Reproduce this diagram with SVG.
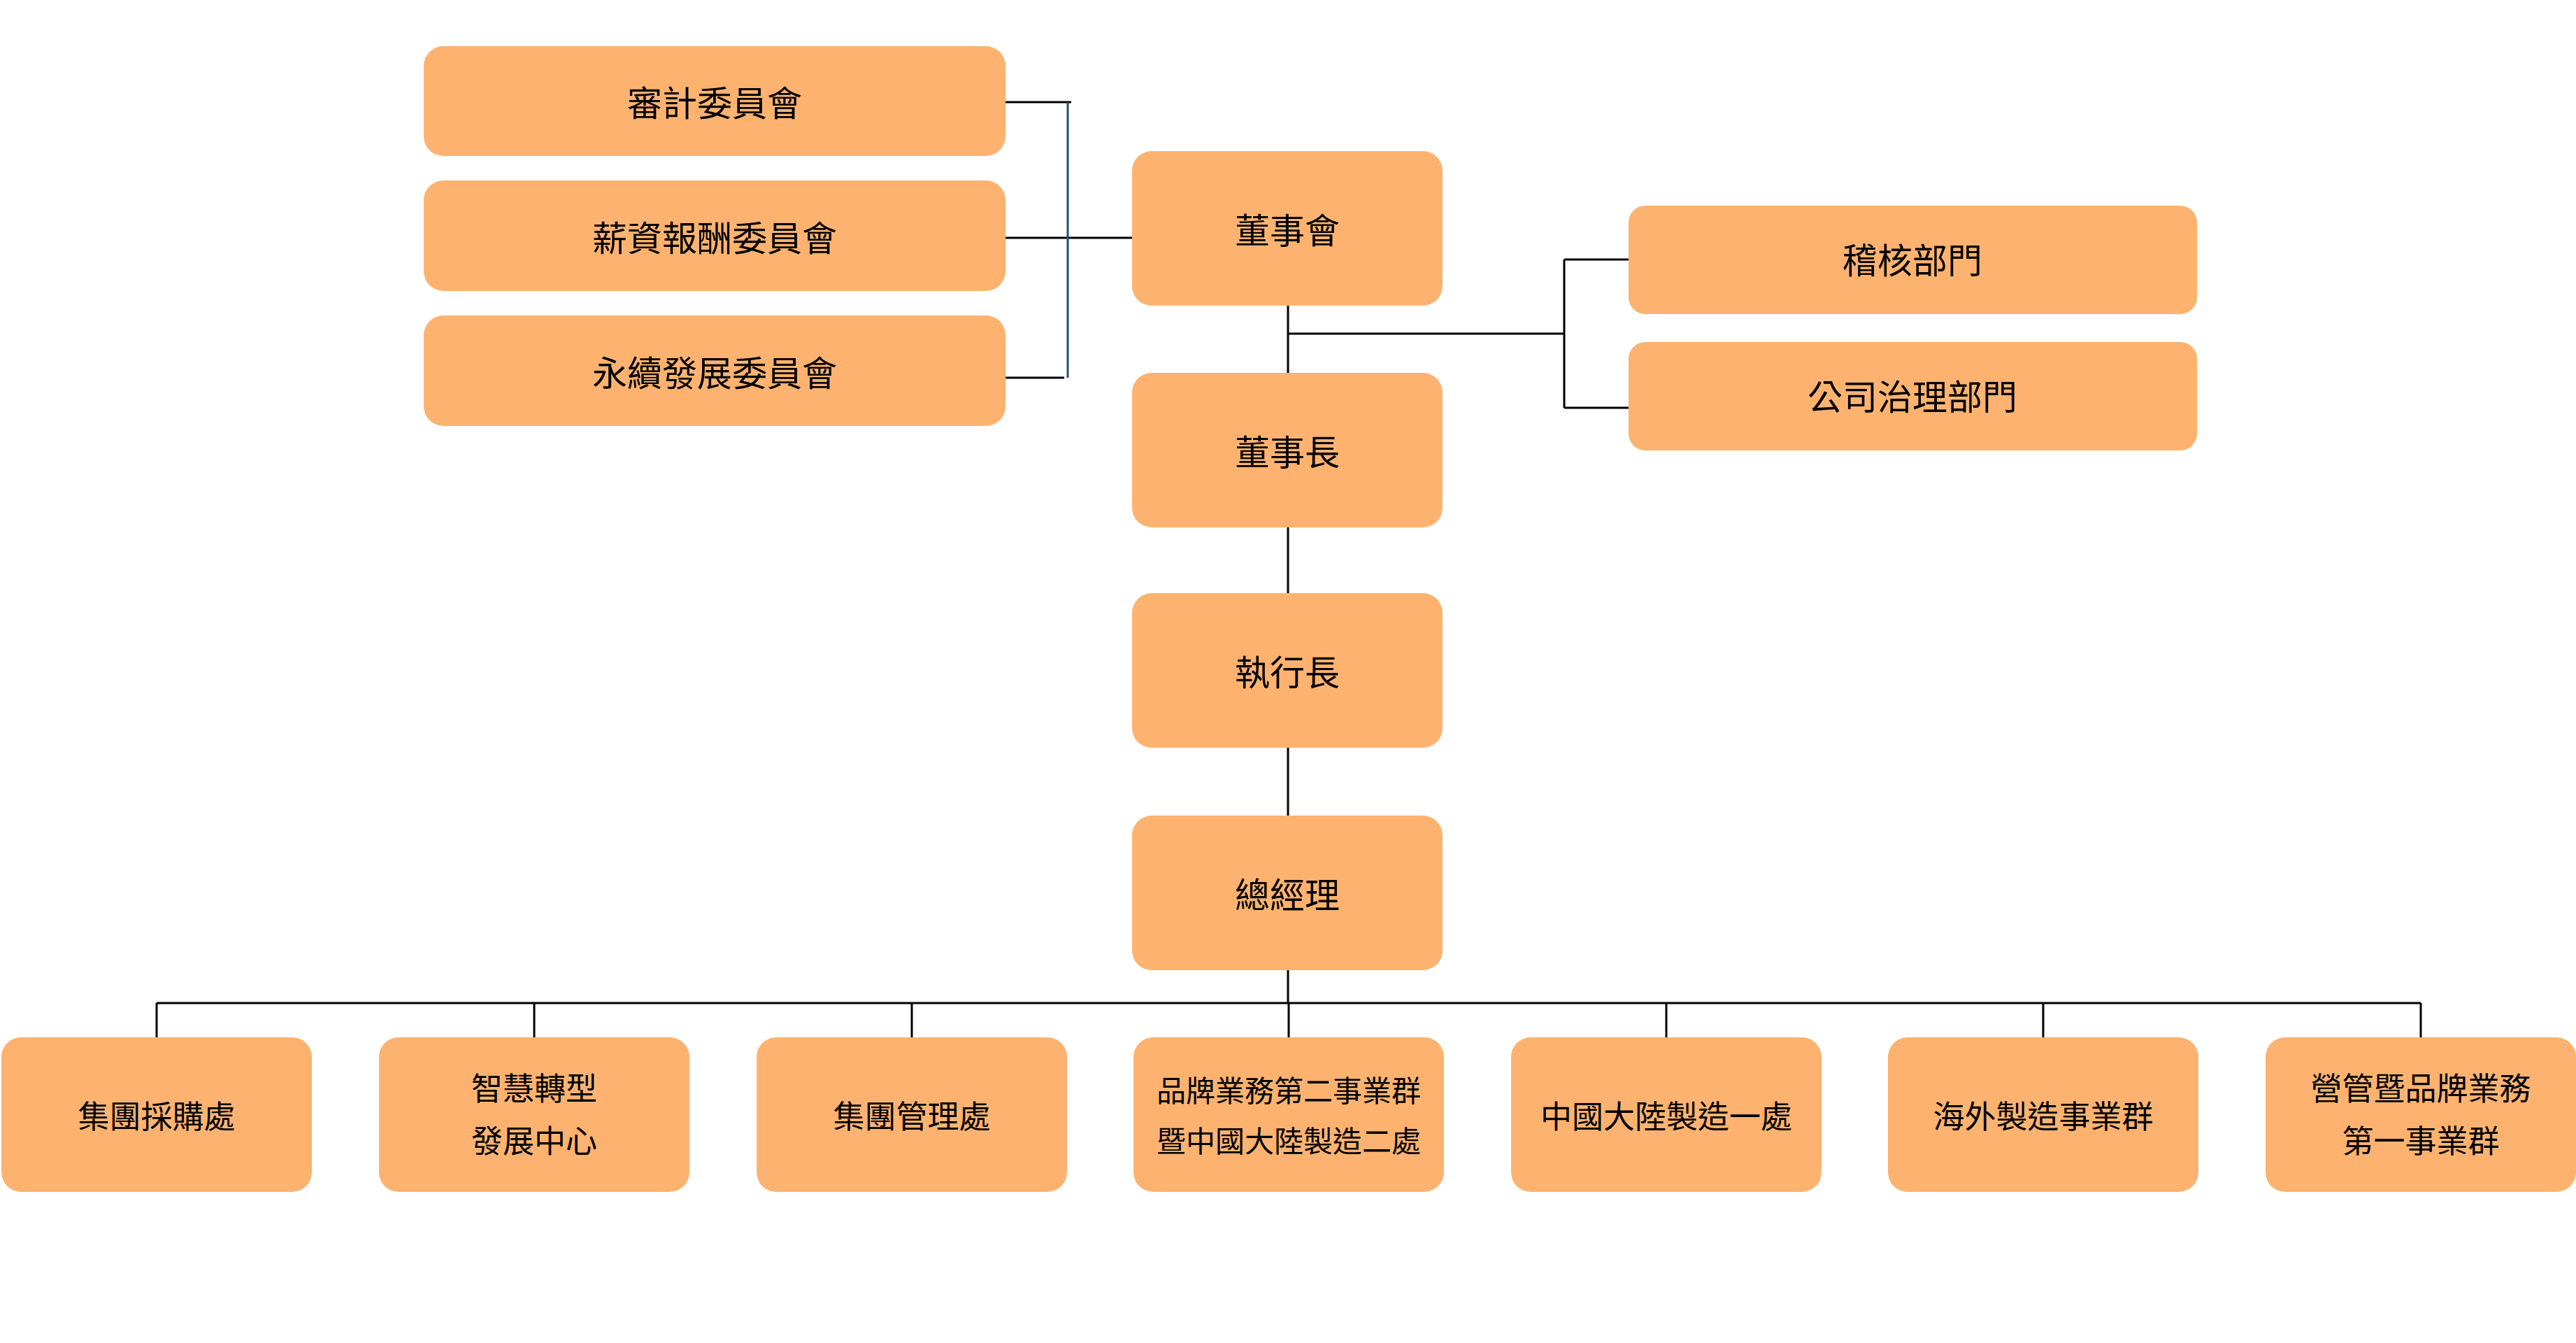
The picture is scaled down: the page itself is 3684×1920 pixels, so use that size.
<svg xmlns="http://www.w3.org/2000/svg" width="3684" height="1920" viewBox="0 0 3684 1920">
<style>
.b{fill:#FDB36F}
text{font-family:"Noto Sans CJK TC","Noto Sans CJK SC",sans-serif;font-size:50px;fill:#000;text-anchor:middle;dominant-baseline:central}
.s{font-size:45px}
.l{stroke:#000;stroke-width:3;fill:none}
</style>
<rect width="3684" height="1920" fill="#fff"/>
<g id="connectors">
<path class="l" d="M1438 146H1532M1438 340H1625M1438 540H1522"/>
<path d="M1527 146V540" stroke="#1F4E79" stroke-width="3" fill="none"/>
<path class="l" d="M1842 437V533M1842 477H2237M2237 371V583M2237 371H2329M2237 583H2329"/>
<path class="l" d="M1842 754V848M1842 1069V1166M1842 1387V1434M224 1434H3462"/>
<path class="l" d="M224 1434V1483M764 1434V1483M1304 1434V1483M1843 1434V1483M2383 1434V1483M2922 1434V1483M3462 1434V1483"/>
</g>
<g id="n1"><rect class="b" x="606" y="66" width="832" height="157" rx="28"/><text x="1022" y="144">審計委員會</text></g>
<g id="n2"><rect class="b" x="606" y="258" width="832" height="158" rx="28"/><text x="1022" y="337">薪資報酬委員會</text></g>
<g id="n3"><rect class="b" x="606" y="451" width="832" height="158" rx="28"/><text x="1022" y="530">永續發展委員會</text></g>
<g id="board"><rect class="b" x="1619" y="216" width="444" height="221" rx="28"/><text x="1841" y="326">董事會</text></g>
<g id="chair"><rect class="b" x="1619" y="533" width="444" height="221" rx="28"/><text x="1841" y="643">董事長</text></g>
<g id="ceo"><rect class="b" x="1619" y="848" width="444" height="221" rx="28"/><text x="1841" y="958">執行長</text></g>
<g id="gm"><rect class="b" x="1619" y="1166" width="444" height="221" rx="28"/><text x="1841" y="1276">總經理</text></g>
<g id="audit"><rect class="b" x="2329" y="294" width="813" height="155" rx="24"/><text x="2735" y="369">稽核部門</text></g>
<g id="gov"><rect class="b" x="2329" y="489" width="813" height="155" rx="24"/><text x="2735" y="564">公司治理部門</text></g>
<g id="d1"><rect class="b" x="2" y="1483" width="444" height="221" rx="28"/><text class="s" x="224" y="1593">集團採購處</text></g>
<g id="d2"><rect class="b" x="542" y="1483" width="444" height="221" rx="28"/><text class="s" x="764" y="1553">智慧轉型</text><text class="s" x="764" y="1628">發展中心</text></g>
<g id="d3"><rect class="b" x="1082" y="1483" width="444" height="221" rx="28"/><text class="s" x="1304" y="1593">集團管理處</text></g>
<g id="d4"><rect class="b" x="1621" y="1483" width="444" height="221" rx="28"/><text class="s" x="1843" y="1556" font-size="42" style="font-size:42px">品牌業務第二事業群</text><text x="1843" y="1628" style="font-size:42px">暨中國大陸製造二處</text></g>
<g id="d5"><rect class="b" x="2161" y="1483" width="444" height="221" rx="28"/><text class="s" x="2383" y="1593">中國大陸製造一處</text></g>
<g id="d6"><rect class="b" x="2700" y="1483" width="444" height="221" rx="28"/><text class="s" x="2922" y="1593">海外製造事業群</text></g>
<g id="d7"><rect class="b" x="3240" y="1483" width="444" height="221" rx="28"/><text class="s" x="3462" y="1553">營管暨品牌業務</text><text class="s" x="3462" y="1628">第一事業群</text></g>
</svg>
